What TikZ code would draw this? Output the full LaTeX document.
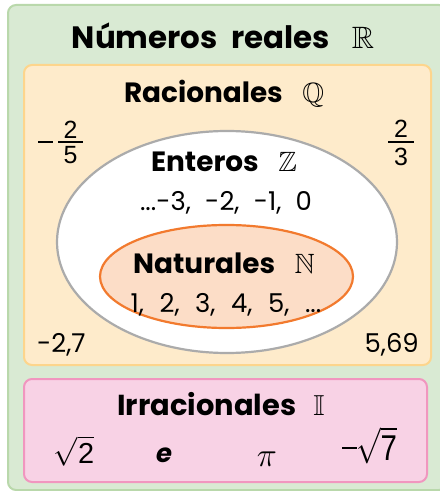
\documentclass[tikz,border=0pt]{standalone}
\usepackage{fix-cm}
\usepackage{amsmath,amssymb}
\DeclareFontFamily{U}{msb}{}
\DeclareFontShape{U}{msb}{m}{n}{<-> msbm10}{}
\usepackage{fontspec}
\setmainfont{Poppins}
\newfontfamily\libsans{Liberation Sans}
\definecolor{greenfill}{HTML}{D9EAD3}
\definecolor{greenline}{HTML}{B9D8AB}
\definecolor{ratfill}{HTML}{FEEBCB}
\definecolor{ratline}{HTML}{FDD58C}
\definecolor{entline}{HTML}{ABABAB}
\definecolor{natfill}{HTML}{FCDDC7}
\definecolor{natline}{HTML}{F27A2E}
\definecolor{irrfill}{HTML}{F8D2E5}
\definecolor{irrline}{HTML}{F196BF}
\tikzset{
  setbox/.style={rounded corners=8bp, line width=2bp},
  bigtitle/.style={font=\fontsize{31}{34}\selectfont\bfseries, anchor=base, inner sep=0pt},
  subtitle/.style={font=\fontsize{28}{32}\selectfont\bfseries, anchor=base, inner sep=0pt},
  plain/.style={font=\fontsize{26}{30}\selectfont, anchor=base, inner sep=0pt},
  fracdigit/.style={font=\libsans\fontsize{25}{28}\selectfont, anchor=center, inner sep=0pt},
  fracbar/.style={line width=2.2bp},
}
\begin{document}
\begin{tikzpicture}[x=1bp,y=-1bp]
\useasboundingbox (0,0) rectangle (440,491);
\clip (0,0) rectangle (440,491);
% outer box
\draw[setbox, fill=greenfill, draw=greenline] (8,5) rectangle (447,490);
% rationals
\draw[setbox, fill=ratfill, draw=ratline] (24,65) rectangle (431,365);
% integers
\draw[fill=white, draw=entline, line width=2.2bp] (227,242) ellipse [x radius=170bp, y radius=111bp];
% naturals
\draw[fill=natfill, draw=natline, line width=2.2bp] (226.5,276.5) ellipse [x radius=126.5bp, y radius=51.5bp];
% irrationals
\draw[setbox, fill=irrfill, draw=irrline] (24,379) rectangle (427,482);

\node[bigtitle] (treal) at (223,49) {Números\hspace{0.45em}reales\hspace{0.7em}$\mathbb{R}$};
\node[subtitle] (trat) at (224,103) {Racionales\hspace{0.7em}$\mathbb{Q}$};
\node[subtitle] (tint) at (224,172) {Enteros\hspace{0.7em}$\mathbb{Z}$};
\node[plain] (vint) at (226,210) {...-3,\hspace{0.55em}-2,\hspace{0.55em}-1,\hspace{0.55em}0};
\node[subtitle] (tnat) at (224,273) {Naturales\hspace{0.7em}$\mathbb{N}$};
\node[plain] (vnat) at (226,312) {1,\hspace{0.6em}2,\hspace{0.6em}3,\hspace{0.6em}4,\hspace{0.6em}5,\hspace{0.6em}...};

% fraction -2/5
\coordinate (mA) at (38,142);
\coordinate (mB) at (53,142);
\draw[fracbar] (mA) -- (mB);
\coordinate (fA1) at (58,142);
\coordinate (fA2) at (83,142);
\draw[fracbar] (fA1) -- (fA2);
\node[fracdigit] (nA) at (70.5,130) {2};
\node[fracdigit] (dA) at (70.5,155) {5};
% fraction 2/3
\coordinate (fB1) at (388,142);
\coordinate (fB2) at (414,142);
\draw[fracbar] (fB1) -- (fB2);
\node[fracdigit] (nB) at (401,129) {2};
\node[fracdigit] (dB) at (401,157) {3};

\node[plain, anchor=base west] (da) at (37,352) {-2,7};
\node[plain, anchor=base east] (db) at (419,352) {5,69};
\node[subtitle, font=\fontsize{29}{32}\selectfont\bfseries] (tirr) at (221,415) {Irracionales\hspace{0.6em}$\mathbb{I}$};
\node[plain, font=\fontsize{29}{30}\selectfont] (ia) at (74,463) {$\sqrt{\text{\libsans 2}}$};
\node[plain] (ib) at (164,462) {\bfseries\itshape e};
\node[plain, font=\fontsize{34}{36}\selectfont] (ic) at (267,466) {$\pi$};
% -sqrt 7
\coordinate (mC) at (342,448);
\coordinate (mD) at (357,448);
\draw[line width=2.6bp] (mC) -- (mD);
\node[plain, anchor=base west, font=\fontsize{36}{40}\selectfont] (id) at (356,460) {\scalebox{0.82}[1]{$\sqrt{\text{\libsans 7}}$}};
\end{tikzpicture}
\end{document}
